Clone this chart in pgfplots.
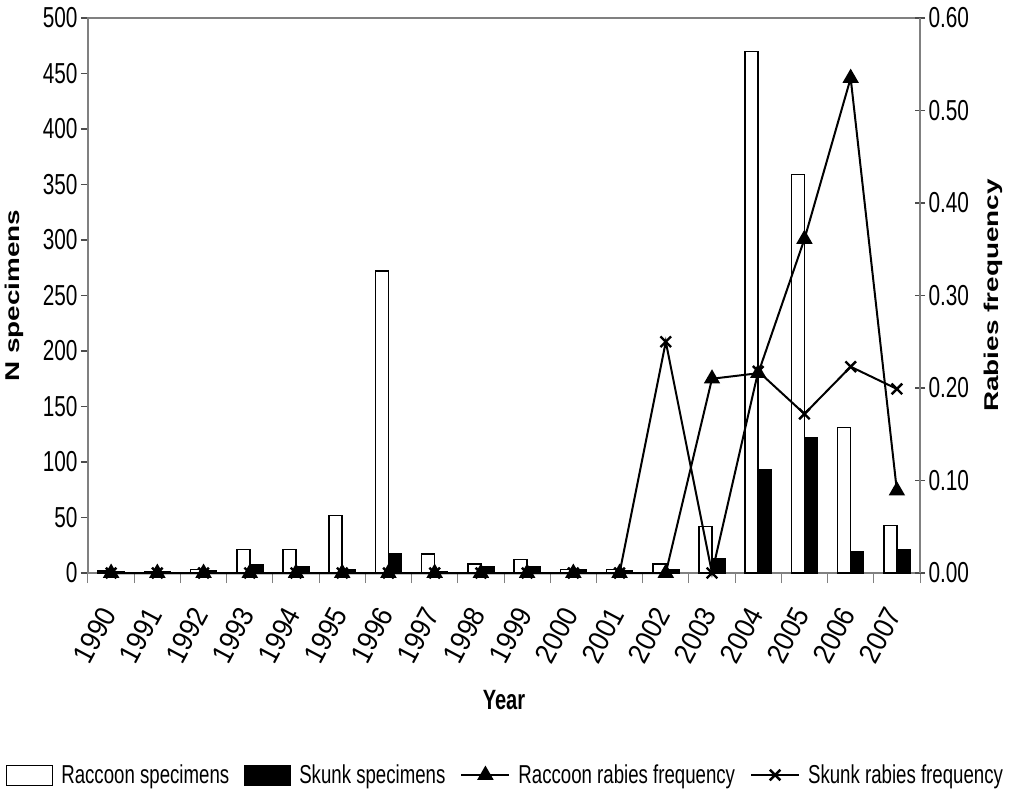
\documentclass[border=0pt]{standalone}
\usepackage{fontspec}
\setmainfont{Liberation Sans}[FakeStretch=0.72]
\newfontfamily\rotfont{Liberation Sans}[FakeStretch=1.4]
\newfontfamily\xtfont{Liberation Sans}[FakeStretch=0.9]
\usepackage{pgfplots}
\usepackage{pgfplotstable}
\pgfplotsset{compat=1.18}
\definecolor{axisgray}{RGB}{128,128,128}
\pgfplotsset{
  barleg/.style={legend image code/.code={\draw[##1] (0bp,-10bp) rectangle (46bp,10bp);}},
  lineleg/.style={legend image code/.code={\draw[mark repeat=2,mark phase=2,##1] plot coordinates {(0bp,0bp) (24bp,0bp) (48bp,0bp)};}},
}
\pgfplotstableread{
x rac sku rfr sfr
0 2 1 0 0
1 1 1 0 0
2 3 2 0 0
3 21 7 0 0
4 21 6 0 0
5 52 3 0 0
6 272 17 0 0
7 17 1 0 0
8 8 6 0 0
9 12 6 0 0
10 3 3 0 0
11 3 2 0 0
12 8 3 0 0.25
13 42 13 0.21 0
14 470 93 0.216 0.218
15 359 122 0.361 0.172
16 131 19 0.535 0.223
17 43 21 0.089 0.199
}\data
\begin{document}
\begin{tikzpicture}
\useasboundingbox (-88bp,-221bp) rectangle (923bp,573bp);
\begin{axis}[
  at={(0,0)}, anchor=south west,
  scale only axis, width=832bp, height=555bp,
  xmin=-0.5, xmax=17.5, ymin=0, ymax=500,
  enlargelimits=false,
  axis lines=box,
  tick pos=left,
  axis line style={draw=axisgray, line width=1.3bp},
  ybar=0pt, bar width=13bp,
  xtick={0,1,...,17},
  xticklabels={1990,1991,1992,1993,1994,1995,1996,1997,1998,1999,2000,2001,2002,2003,2004,2005,2006,2007},
  major x tick style={draw=none},
  minor xtick={-0.5,0.5,...,17.5},
  minor x tick style={draw=axisgray, line width=1bp},
  minor tick length=10bp,
  ytick={0,50,...,500},
  major tick length=7bp,
  tick align=outside,
  y tick style={draw=black!70, line width=1.2bp},
  /pgf/number format/assume math mode=true,
  tick label style={font=\fontsize{29}{32}\selectfont},
  xticklabel style={rotate=62, anchor=east, font=\fontsize{29}{32}\selectfont\xtfont, xshift=-3bp},
  xticklabel shift=24bp,
  xlabel={Year},
  xlabel style={font=\fontsize{28}{32}\selectfont\bfseries, at={(axis description cs:0.5,-0.229)}, anchor=center},
  ylabel={N specimens},
  ylabel style={font=\fontsize{20}{24}\selectfont\rotfont\bfseries, at={(axis description cs:-0.088,0.5)}, anchor=center, rotate=0},
]
\addplot[fill=white, draw=black, line width=1.5bp] table[x=x, y=rac] {\data};
\addplot[fill=black, draw=black, line width=1.5bp] table[x=x, y=sku] {\data};
\end{axis}
\begin{axis}[
  at={(0,0)}, anchor=south west,
  scale only axis, width=832bp, height=555bp,
  xmin=-0.5, xmax=17.5, ymin=0, ymax=0.6,
  enlargelimits=false,
  axis x line=none,
  axis y line*=right,
  axis line style={draw=axisgray, line width=1.3bp},
  ytick={0,0.1,...,0.61},
  yticklabel style={/pgf/number format/.cd, fixed, fixed zerofill, precision=2},
  /pgf/number format/assume math mode=true,
  tick align=center,
  major tick length=10bp,
  y tick style={draw=black!70, line width=1.2bp},
  tick label style={font=\fontsize{29}{32}\selectfont},
  ylabel={Rabies frequency},
  ylabel style={font=\fontsize{20}{24}\selectfont\rotfont\bfseries, at={(axis description cs:1.088,0.5)}, anchor=center, rotate=0},
  clip=false,
  legend columns=4,
  legend style={at={(axis description cs:0.502,-0.364)}, anchor=center, draw=none, fill=none,
    font=\fontsize{26}{30}\selectfont, inner sep=0pt,
    nodes={inner sep=2bp},
    /tikz/every odd column/.append style={column sep=6bp},
    /tikz/every even column/.append style={column sep=13bp}},
]
\addlegendimage{barleg, fill=white, draw=black, line width=1bp}
\addlegendentry{Raccoon specimens}
\addlegendimage{barleg, fill=black, draw=black, line width=1bp}
\addlegendentry{Skunk specimens}
\addplot[lineleg, black, line width=2bp, mark=triangle*, mark size=7.5bp, mark options={solid}] table[x=x, y=rfr] {\data};
\addlegendentry{Raccoon rabies frequency}
\addplot[lineleg, black, line width=2bp, mark=x, mark size=7.5bp, mark options={line width=2.4bp}] table[x=x, y=sfr] {\data};
\addlegendentry{Skunk rabies frequency}
\end{axis}
\end{tikzpicture}
\end{document}
